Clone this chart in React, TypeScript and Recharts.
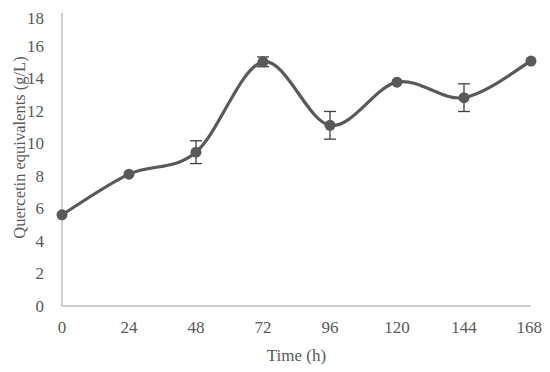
import React from "react"
import { LineChart, Line, XAxis, YAxis, ErrorBar } from "recharts"

const hours = [0, 24, 48, 72, 96, 120, 144, 168]
const quercetin = [5.6, 8.1, 9.45, 15.0, 11.1, 13.75, 12.8, 15.05]
const sd = [null, null, 0.7, 0.3, 0.85, null, 0.85, null]
const xTicks = [0, 24, 48, 72, 96, 120, 144, 168]
const yTicks = [0, 2, 4, 6, 8, 10, 12, 14, 16, 18]

const data = hours.map((h, i) => ({ h, q: quercetin[i], sd: sd[i] }))

const ink = "#595959"
const axisGray = "#bfbfbf"
const font = "'Liberation Serif', serif"

// Excel-like smoothed line (Catmull-Rom as cubic beziers)
function smoothCurve(context: any) {
  let pts: number[][] = []
  return {
    areaStart() {},
    areaEnd() {},
    lineStart() {
      pts = []
    },
    point(x: number, y: number) {
      pts.push([+x, +y])
    },
    lineEnd() {
      const n = pts.length
      if (!n) return
      context.moveTo(pts[0][0], pts[0][1])
      for (let i = 0; i < n - 1; i++) {
        const p0 = pts[Math.max(i - 1, 0)]
        const p1 = pts[i]
        const p2 = pts[i + 1]
        const p3 = pts[Math.min(i + 2, n - 1)]
        context.bezierCurveTo(
          p1[0] + (p2[0] - p0[0]) / 6,
          p1[1] + (p2[1] - p0[1]) / 6,
          p2[0] - (p3[0] - p1[0]) / 6,
          p2[1] - (p3[1] - p1[1]) / 6,
          p2[0],
          p2[1]
        )
      }
    },
  }
}

const YLabel = (props: any) => {
  const vb = props.viewBox || { y: 0, height: 0 }
  const x = 11
  const y = vb.y + vb.height / 2 - 12
  return (
    <text
      x={x}
      y={y}
      transform={`rotate(-90, ${x}, ${y})`}
      textAnchor="middle"
      dominantBaseline="central"
      fill={ink}
      fontSize={16.5}
      fontFamily={font}
    >
      Quercetin equivalents (g/L)
    </text>
  )
}

export default function App() {
  const tick = { fill: ink, fontSize: 17, fontFamily: font }
  return (
    <div style={{ width: 534, height: 360, fontFamily: font }}>
      <LineChart
        width={534}
        height={360}
        data={data}
        margin={{ top: 5, right: 11, bottom: 4, left: 10 }}
      >
        <XAxis
          dataKey="h"
          type="number"
          domain={[0, 168]}
          ticks={xTicks}
          tickLine={false}
          axisLine={{ stroke: axisGray, strokeWidth: 1.5 }}
          tick={tick}
          tickMargin={9}
          height={58}
          label={{ value: "Time (h)", position: "insideBottom", offset: 3, fill: ink, fontSize: 17, fontFamily: font }}
        />
        <YAxis
          type="number"
          domain={[0, 18]}
          ticks={yTicks}
          tickLine={false}
          axisLine={{ stroke: axisGray, strokeWidth: 1.5 }}
          tick={tick}
          tickMargin={12}
          width={44}
          label={<YLabel />}
        />
        <Line
          dataKey="q"
          type={smoothCurve as any}
          stroke={ink}
          strokeWidth={3.2}
          dot={{ r: 5.5, fill: ink, stroke: ink, strokeWidth: 0 }}
          isAnimationActive={false}
        >
          <ErrorBar dataKey="sd" width={6} stroke="#404040" strokeWidth={1.3} />
        </Line>
      </LineChart>
    </div>
  )
}
